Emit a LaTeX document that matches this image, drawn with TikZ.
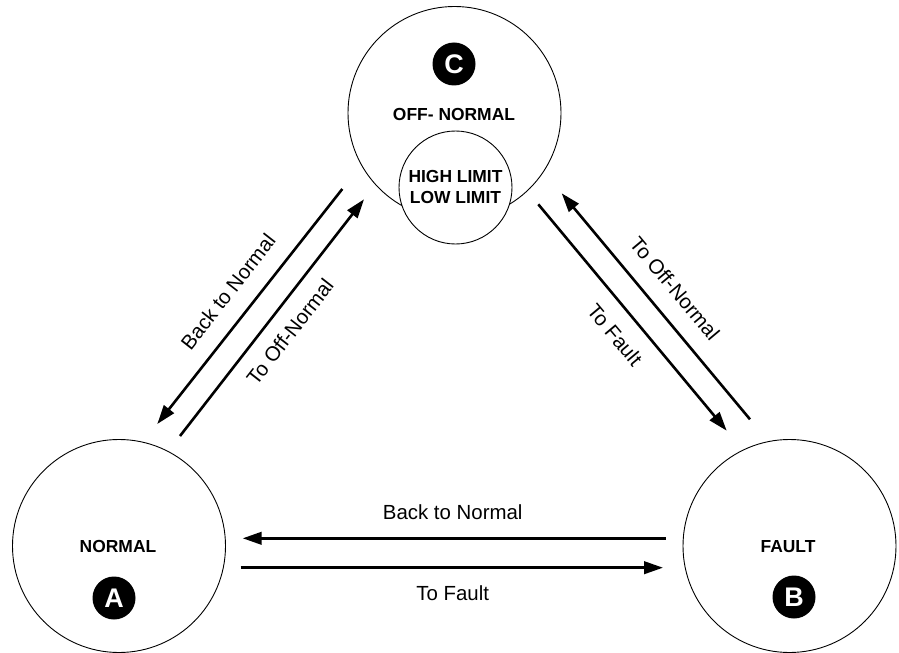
\documentclass[tikz,border=0pt]{standalone}
\usepackage{fontspec}
\setmainfont{Liberation Sans}
\usetikzlibrary{arrows.meta}
\begin{document}
\begin{tikzpicture}[x=1bp,y=-1bp,
 state/.style={circle,draw,line width=0.9bp,minimum size=213bp,inner sep=0pt},
 substate/.style={circle,draw,fill=white,line width=0.9bp,minimum size=113bp,inner sep=0pt},
 badge/.style={circle,fill=black,text=white,minimum size=43bp,inner sep=0pt,font=\fontsize{27}{27}\selectfont\bfseries},
 statetxt/.style={font=\fontsize{17.5}{22}\selectfont\bfseries,align=center,inner sep=0pt},
 lbl/.style={font=\fontsize{20.5}{24}\selectfont,inner sep=0pt},
 flow/.style={line width=2.6bp,-{Triangle[length=19bp,width=12.5bp]}}]
\useasboundingbox (0,0) rectangle (899,653);
% states
\node[state] (C) at (454.5,113) {};
\node[statetxt] (offn) at (454,114) {OFF- NORMAL};
\node[badge] (cbadge) at (454,64) {C};
\node[substate] (lim) at (455.5,187.5) {};
\node[statetxt] (limt) at (455.5,187) {HIGH LIMIT\\LOW LIMIT};
\node[state] (A) at (119,546) {};
\node[statetxt] (an) at (118,546) {NORMAL};
\node[badge] (abadge) at (114,598) {A};
\node[state] (B) at (789.5,546) {};
\node[statetxt] (bn) at (788,547) {FAULT};
\node[badge] (bbadge) at (794,597) {B};
% arrow end points
\coordinate (c1) at (342.3,189);
\coordinate (a1) at (157.3,424);
\coordinate (a2) at (180,436);
\coordinate (c2) at (364,199.3);
\coordinate (c3) at (538.3,204.3);
\coordinate (b3) at (726.7,430.7);
\coordinate (b4) at (750,419.3);
\coordinate (c4) at (561.7,193.3);
\coordinate (b5) at (665.7,538.3);
\coordinate (a5) at (242.7,538.3);
\coordinate (a6) at (240.7,567.7);
\coordinate (b6) at (663,567.7);
% connectors
\draw[flow] (c1) -- (a1);
\draw[flow] (a2) -- (c2);
\draw[flow] (c3) -- (b3);
\draw[flow] (b4) -- (c4);
\draw[flow] (b5) -- (a5);
\draw[flow] (a6) -- (b6);
% labels
\node[lbl,rotate=52] (l1) at (228,291.7) {Back to Normal};
\node[lbl,rotate=52] (l2) at (290,331.7) {To Off-Normal};
\node[lbl,rotate=-50] (l3) at (675,288.3) {To Off-Normal};
\node[lbl,rotate=-50] (l4) at (615,335) {To Fault};
\node[lbl] (l5) at (452.7,511.7) {Back to Normal};
\node[lbl] (l6) at (452.7,592.7) {To Fault};
\end{tikzpicture}
\end{document}
